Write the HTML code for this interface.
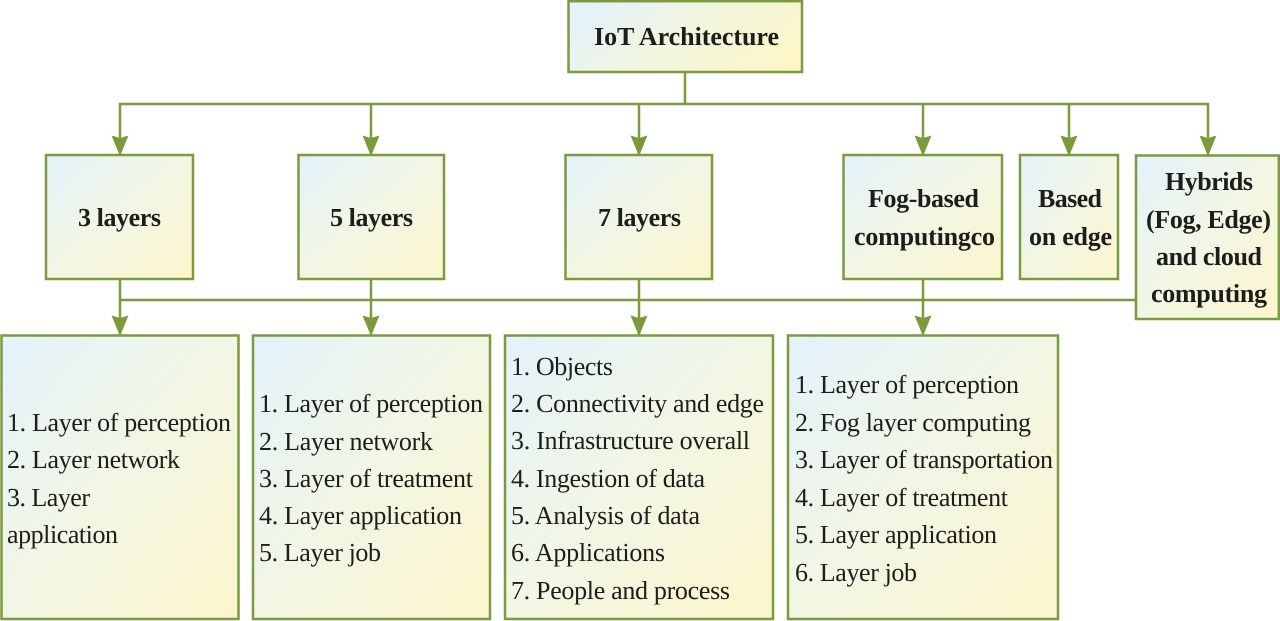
<!DOCTYPE html>
<html><head><meta charset="utf-8"><title>IoT Architecture</title>
<style>html,body{margin:0;padding:0;background:#fff;width:1280px;height:621px;overflow:hidden}svg{display:block}
text{font-family:"Liberation Serif",serif;fill:#1d1d1b;text-rendering:geometricPrecision}
.r{font-size:26px}.b{font-size:26px;font-weight:bold}
rect{fill:url(#g);stroke:#7b9a42;stroke-width:2.5}
.l{stroke:#7b9a42;stroke-width:2.5;fill:none}
.a{fill:#7a9a3c}</style></head><body>
<svg width="1280" height="621" viewBox="0 0 1280 621" xmlns="http://www.w3.org/2000/svg">
<defs>
<linearGradient id="g" x1="0" y1="0" x2="1" y2="1"><stop offset="0" stop-color="#e3f2fb"/><stop offset="0.45" stop-color="#f1f6e6"/><stop offset="1" stop-color="#fcf6cd"/></linearGradient>
<linearGradient id="g2" x1="0" y1="0.3" x2="1" y2="0.7"><stop offset="0" stop-color="#e3f2fb"/><stop offset="0.45" stop-color="#f1f6e0"/><stop offset="1" stop-color="#fdf6c8"/></linearGradient>
</defs>
<path class="l" d="M685 72V104M120 155V104H1208V155M371 104V155M639 104V155M923 104V155M1069 104V155"/>
<path class="l" d="M120 279V335M371 279V335M639 279V335M923 279V335M120 300H1136"/>
<g class="a">
<polygon points="111.5,135.5 120,138 128.5,135.5 120.5,155 119.5,155"/>
<polygon points="362.5,135.5 371,138 379.5,135.5 371.5,155 370.5,155"/>
<polygon points="630.5,135.5 639,138 647.5,135.5 639.5,155 638.5,155"/>
<polygon points="914.5,135.5 923,138 931.5,135.5 923.5,155 922.5,155"/>
<polygon points="1060.5,135.5 1069,138 1077.5,135.5 1069.5,155 1068.5,155"/>
<polygon points="1199.5,135.5 1208,138 1216.5,135.5 1208.5,155 1207.5,155"/>
<polygon points="111.5,315.5 120,318 128.5,315.5 120.5,335 119.5,335"/>
<polygon points="362.5,315.5 371,318 379.5,315.5 371.5,335 370.5,335"/>
<polygon points="630.5,315.5 639,318 647.5,315.5 639.5,335 638.5,335"/>
<polygon points="914.5,315.5 923,318 931.5,315.5 923.5,335 922.5,335"/>
</g>
<rect x="568.5" y="1.2" width="233.5" height="70.8" style="fill:url(#g2)"/>
<rect x="46" y="155" width="147" height="124"/>
<rect x="298.5" y="155" width="145.5" height="124"/>
<rect x="565.5" y="155" width="146.5" height="124"/>
<rect x="843.5" y="155" width="158.5" height="124"/>
<rect x="1020" y="155" width="98" height="124"/>
<rect x="1136" y="155.5" width="142.8" height="163.5"/>
<rect x="1.5" y="335.5" width="237" height="283.5"/>
<rect x="253" y="335.5" width="237" height="283.5"/>
<rect x="505" y="335.5" width="268" height="283.5"/>
<rect x="788" y="335.5" width="270" height="283.5"/>
<g class="b">
<text x="594" y="45" textLength="185">IoT Architecture</text>
<text x="78" y="226" textLength="83">3 layers</text>
<text x="330" y="226" textLength="83">5 layers</text>
<text x="598" y="226" textLength="83">7 layers</text>
<text x="868" y="207" textLength="111">Fog-based</text>
<text x="854" y="245" textLength="141">computingco</text>
<text x="1038" y="207" textLength="64">Based</text>
<text x="1029" y="245" textLength="83">on edge</text>
<text x="1165" y="190" textLength="88">Hybrids</text>
<text x="1146" y="228" textLength="125">(Fog, Edge)</text>
<text x="1156" y="265" textLength="106">and cloud</text>
<text x="1151" y="302" textLength="116">computing</text>
</g>
<g class="r">
<text x="7" y="431" textLength="224">1. Layer of perception</text>
<text x="7" y="468" textLength="173">2. Layer network</text>
<text x="7" y="506" textLength="83">3. Layer</text>
<text x="7" y="543" textLength="111">application</text>
<text x="259" y="412" textLength="224">1. Layer of perception</text>
<text x="259" y="450" textLength="174">2. Layer network</text>
<text x="259" y="487" textLength="214">3. Layer of treatment</text>
<text x="259" y="524" textLength="203">4. Layer application</text>
<text x="259" y="561" textLength="122">5. Layer job</text>
<text x="511" y="375" textLength="102">1. Objects</text>
<text x="511" y="412" textLength="253">2. Connectivity and edge</text>
<text x="511" y="449" textLength="239">3. Infrastructure overall</text>
<text x="511" y="487" textLength="194">4. Ingestion of data</text>
<text x="511" y="524" textLength="189">5. Analysis of data</text>
<text x="511" y="561" textLength="154">6. Applications</text>
<text x="511" y="599" textLength="219">7. People and process</text>
<text x="795" y="393" textLength="224">1. Layer of perception</text>
<text x="795" y="431" textLength="236">2. Fog layer computing</text>
<text x="795" y="468" textLength="258">3. Layer of transportation</text>
<text x="795" y="506" textLength="213">4. Layer of treatment</text>
<text x="795" y="543" textLength="202">5. Layer application</text>
<text x="795" y="581" textLength="122">6. Layer job</text>
</g>
</svg>
</body></html>
